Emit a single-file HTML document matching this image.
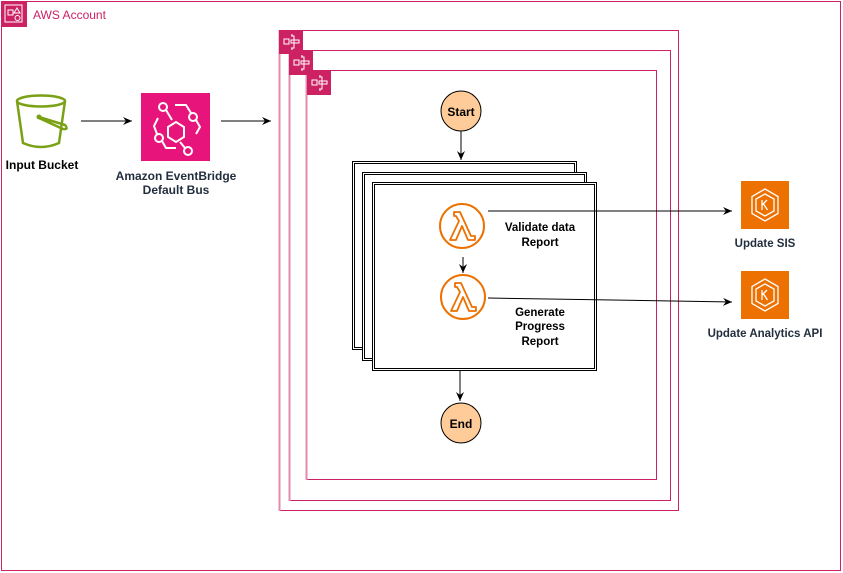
<!DOCTYPE html>
<html><head><meta charset="utf-8"><style>
html,body{margin:0;padding:0;background:#fff;}
svg{display:block;font-family:"Liberation Sans",Arial,sans-serif;}
</style></head><body>
<svg width="843" height="573" viewBox="0 0 843 573" xmlns="http://www.w3.org/2000/svg">
<defs>
<marker id="ah" markerWidth="10" markerHeight="10" refX="9" refY="5" orient="auto" markerUnits="userSpaceOnUse">
<path d="M0,1 L9,5 L0,9 L3,5 Z" fill="#000"/>
</marker>
<g id="sf">
<rect x="0" y="0" width="24" height="24" fill="#cc2264"/>
<g fill="none" stroke="#fff" stroke-width="1">
<rect x="5" y="9" width="5" height="5"/><rect x="12" y="10" width="8" height="3"/>
<path d="M12 6h3v12h-3M13 4v2M13 18v2"/>
</g>
</g>
<g id="eks">
<rect x="0" y="0" width="48" height="48" fill="#ed7100"/>
<g fill="none" stroke="#fff" stroke-width="1.3">
<path d="M24 8 L37 15.5 V32.5 L24 40 L11 32.5 V15.5 Z"/>
<path d="M24 13 L33 18 V30 L24 35 L15 30 V18 Z"/>
<path d="M21 19 V29 M21 24 L26 19 M22.5 23 L26.5 29"/>
</g>
</g>
<g id="lam">
<circle cx="0" cy="0" r="22" fill="#fff" stroke="#ed7100" stroke-width="2"/>
<path d="M-8,-14 L-2,-14 L9,10 L13,10 L13,14 L6,14 L0,0 L-6,14 L-12,14 L-3,-5 L-6,-10 L-8,-10 Z" fill="none" stroke="#ed7100" stroke-width="1.8" stroke-linejoin="round"/>
</g>
</defs>

<!-- AWS account -->
<rect x="1.5" y="1.5" width="839" height="569" fill="none" stroke="#cc2264" stroke-width="1"/>
<rect x="1" y="1" width="26" height="26" fill="#cc2264"/>
<g fill="none" stroke="#fff" stroke-width="1">
<rect x="5" y="5" width="17" height="17"/><rect x="8" y="10" width="5" height="5"/><path d="M17 8 L20 13 L14 13 Z"/><circle cx="17.5" cy="18" r="2.5"/>
</g>
<text x="33" y="19" font-size="12" fill="#cc2264">AWS Account</text>

<!-- S3 bucket -->
<g fill="none" stroke="#7aa116" stroke-width="2.5">
<ellipse cx="41" cy="101" rx="24" ry="5.5"/>
<path d="M17 101 L23 143 Q41 151 59 143 L65 101"/>
<path d="M39 117 L65 125 Q69 130 63 129 L39 118"/>
</g>
<circle cx="39" cy="117" r="2.5" fill="#7aa116"/>
<text x="42" y="169" font-size="12" font-weight="bold" text-anchor="middle" fill="#000">Input Bucket</text>

<line x1="81" y1="121" x2="132" y2="121" stroke="#000" stroke-width="1" marker-end="url(#ah)"/>

<!-- EventBridge -->
<rect x="141" y="93" width="69" height="68" fill="#e7157b"/>
<g fill="none" stroke="#fff" stroke-width="2">
<path d="M168 127 L176 122 L184 127 L184 137 L176 142 L168 137 Z"/>
<circle cx="163" cy="107" r="4"/><path d="M166 110 L172 120"/>
<circle cx="193" cy="117" r="4"/><path d="M175 105 L186 105 L191 113 M196 120 L200 127 L196 134"/>
<circle cx="159" cy="138" r="4"/><path d="M158 118 L154 126 L157 134 M162 141 L166 148 L176 148"/>
<circle cx="188" cy="151" r="4"/><path d="M180 142 L185 148"/>
</g>
<text x="176" y="180" font-size="12" font-weight="bold" text-anchor="middle" fill="#232f3e">Amazon EventBridge</text>
<text x="176" y="194" font-size="12" font-weight="bold" text-anchor="middle" fill="#232f3e">Default Bus</text>

<line x1="221" y1="121" x2="271" y2="121" stroke="#000" stroke-width="1" marker-end="url(#ah)"/>

<!-- Step function nested boxes -->
<rect x="279.5" y="30.5" width="399" height="480" fill="none" stroke="#cc2264"/>
<line x1="279.5" y1="30" x2="279.5" y2="511" stroke="#e38aae" stroke-width="2"/>
<rect x="289.5" y="50.5" width="381" height="450" fill="none" stroke="#cc2264"/>
<line x1="289.5" y1="50" x2="289.5" y2="501" stroke="#e38aae" stroke-width="2"/>
<rect x="306.5" y="70.5" width="350" height="409" fill="none" stroke="#cc2264"/>
<line x1="306.5" y1="70" x2="306.5" y2="480" stroke="#e38aae" stroke-width="2"/>
<use href="#sf" x="279" y="30"/>
<use href="#sf" x="289" y="51"/>
<use href="#sf" x="307" y="71"/>

<!-- Start -->
<circle cx="461" cy="111" r="20" fill="#ffcc99" stroke="#000" stroke-width="1"/>
<text x="461" y="116" font-size="12" font-weight="bold" text-anchor="middle">Start</text>
<line x1="461" y1="131" x2="461" y2="160" stroke="#000" marker-end="url(#ah)"/>

<!-- stacked boxes -->
<g fill="#fff" stroke="#000" stroke-width="1">
<rect x="352.5" y="161.5" width="224" height="188"/><rect x="354.5" y="163.5" width="220" height="184"/>
<rect x="362.5" y="172.5" width="224" height="188"/><rect x="364.5" y="174.5" width="220" height="184"/>
<rect x="372.5" y="182.5" width="224" height="188"/><rect x="374.5" y="184.5" width="220" height="184"/>
</g>

<use href="#lam" x="462" y="226"/>
<use href="#lam" x="463" y="297"/>
<line x1="463" y1="257" x2="463" y2="273" stroke="#000" marker-end="url(#ah)"/>
<text x="540" y="231" font-size="11.5" font-weight="bold" text-anchor="middle">Validate data</text>
<text x="540" y="246" font-size="11.5" font-weight="bold" text-anchor="middle">Report</text>
<text x="540" y="316" font-size="11.5" font-weight="bold" text-anchor="middle">Generate</text>
<text x="540" y="330" font-size="11.5" font-weight="bold" text-anchor="middle">Progress</text>
<text x="540" y="345" font-size="11.5" font-weight="bold" text-anchor="middle">Report</text>

<line x1="488" y1="211" x2="732" y2="211" stroke="#000" marker-end="url(#ah)"/>
<line x1="488" y1="298" x2="732" y2="302" stroke="#000" marker-end="url(#ah)"/>

<line x1="460" y1="371" x2="460" y2="401" stroke="#000" marker-end="url(#ah)"/>
<circle cx="461" cy="423" r="20" fill="#ffcc99" stroke="#000" stroke-width="1"/>
<text x="461" y="428" font-size="12" font-weight="bold" text-anchor="middle">End</text>

<!-- EKS -->
<use href="#eks" x="741" y="181"/>
<text x="765" y="247" font-size="11.5" font-weight="bold" text-anchor="middle" fill="#232f3e">Update SIS</text>
<use href="#eks" x="741" y="271"/>
<text x="765" y="337" font-size="11.5" font-weight="bold" text-anchor="middle" fill="#232f3e">Update Analytics API</text>
</svg>
</body></html>
